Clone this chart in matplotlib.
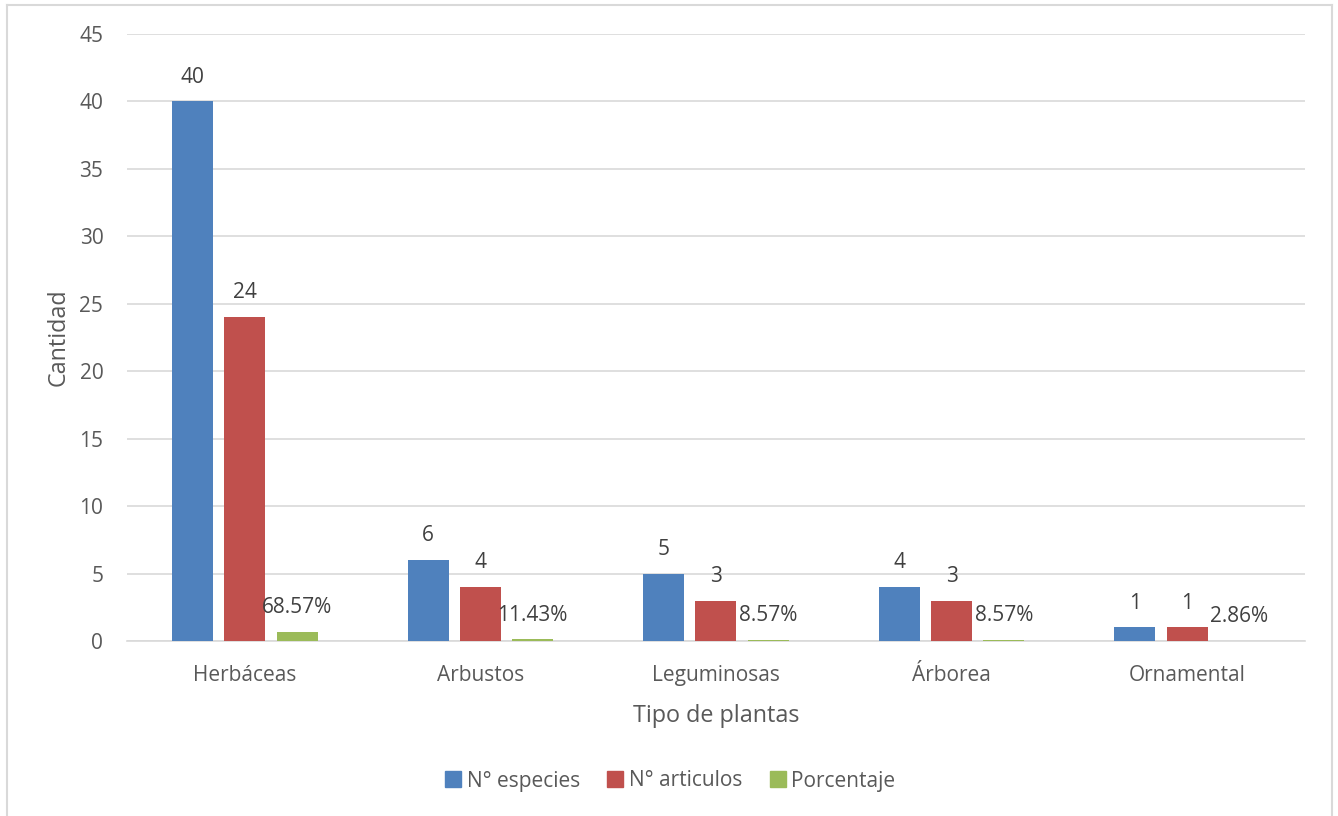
import matplotlib
matplotlib.use("Agg")
import matplotlib.pyplot as plt
from matplotlib.lines import Line2D
import numpy as np

plt.rcParams['font.family'] = ['Open Sans', 'DejaVu Sans']

categories = ["Herbáceas", "Arbustos", "Leguminosas", "Árborea", "Ornamental"]
n_especies = [40, 6, 5, 4, 1]
n_articulos = [24, 4, 3, 3, 1]
porcentaje = [0.6857, 0.1143, 0.0857, 0.0857, 0.0286]
series_names = ["N° especies", "N° articulos", "Porcentaje"]
colors = ["#4f81bd", "#c0504d", "#9bbb59"]
y_ticks = [0, 5, 10, 15, 20, 25, 30, 35, 40, 45]

fig = plt.figure(figsize=(13.38, 8.16), dpi=100)
ax = fig.add_axes([0.0949, 0.2145, 0.8804, 0.7438])

x = np.arange(len(categories))
width = 0.174
offset = 0.222
series = [n_especies, n_articulos, porcentaje]
label_fmt = [lambda v: f"{v:g}", lambda v: f"{v:g}", lambda v: f"{v*100:.2f}%"]

for i, (vals, col) in enumerate(zip(series, colors)):
    pos = x + (i - 1) * offset
    bars = ax.bar(pos, vals, width=width, color=col, zorder=3)
    for b, v in zip(bars, vals):
        ax.annotate(label_fmt[i](v), (b.get_x() + b.get_width() / 2, v),
                    xytext=(0, 10), textcoords="offset points",
                    ha="center", va="bottom", fontsize=15, color="#404040")

ax.set_xlim(-0.5, len(categories) - 0.5)
ax.set_ylim(0, 45)
ax.set_yticks(y_ticks)
ax.set_xticks(x)
ax.set_xticklabels(categories)
ax.tick_params(axis="both", length=0, labelsize=15, colors="#595959")
ax.tick_params(axis="y", pad=17)
ax.tick_params(axis="x", pad=17)
ax.grid(axis="y", color="#d9d9d9", linewidth=1.2, zorder=0)
for s in ["top", "right", "left"]:
    ax.spines[s].set_visible(False)
ax.spines["bottom"].set_color("#d9d9d9")
ax.spines["bottom"].set_linewidth(1.2)

ax.set_ylabel("Cantidad", fontsize=16.8, color="#595959", labelpad=6)
ax.set_xlabel("Tipo de plantas", fontsize=16.8, color="#595959", labelpad=13)

handles = [Line2D([], [], marker="s", linestyle="none", markersize=12,
                  markerfacecolor=c, markeredgecolor=c) for c in colors]
fig.legend(handles, series_names, loc="center", bbox_to_anchor=(0.5, 1 - 781 / 816),
           ncol=3, frameon=False, fontsize=15, labelcolor="#595959",
           handletextpad=0.15, columnspacing=1.2, handlelength=1.0)

# Light frame around the chart area
frame_col = "#d9d9d9"
l, r, t = 7 / 1338, 1332 / 1338, 1 - 5 / 816
fig.add_artist(Line2D([l, l], [0, t], color=frame_col, lw=1.5, transform=fig.transFigure))
fig.add_artist(Line2D([r, r], [0, t], color=frame_col, lw=1.5, transform=fig.transFigure))
fig.add_artist(Line2D([l, r], [t, t], color=frame_col, lw=1.5, transform=fig.transFigure))

fig.savefig("out.png", dpi=100)
